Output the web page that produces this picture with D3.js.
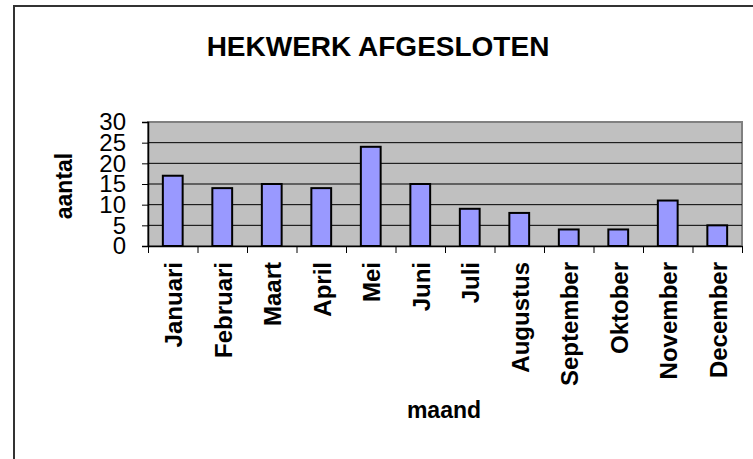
<!DOCTYPE html>
<html>
<head>
<meta charset="utf-8">
<script src="https://cdn.jsdelivr.net/npm/d3@7"></script>
<style>
  body { margin: 0; background: #fff; }
  svg { display: block; font-family: "Liberation Sans", Arial, sans-serif; }
</style>
</head>
<body>
<div id="chart"></div>
<script>
// data
const months = ["Januari", "Februari", "Maart", "April", "Mei", "Juni",
                "Juli", "Augustus", "September", "Oktober", "November", "December"];
const counts = [17, 14, 15, 14, 24, 15, 9, 8, 4, 4, 11, 5];
const yTicks = [0, 5, 10, 15, 20, 25, 30];

const W = 753, H = 459;
const margin = { top: 122, left: 148, right: 11, bottom: 213 };
const width = W - margin.left - margin.right;
const height = H - margin.top - margin.bottom;

const svg = d3.select("#chart").append("svg")
    .attr("width", W)
    .attr("height", H);

// chart frame (runs off the right and bottom of the picture)
svg.append("rect")
    .attr("x", 14).attr("y", 6)
    .attr("width", 800).attr("height", 500)
    .attr("fill", "none")
    .attr("stroke", "#333")
    .attr("stroke-width", 2);

svg.append("text")
    .attr("x", 378)
    .attr("y", 56)
    .attr("text-anchor", "middle")
    .style("font-size", "28px")
    .style("font-weight", "bold")
    .text("HEKWERK AFGESLOTEN");

const g = svg.append("g")
    .attr("transform", "translate(" + margin.left + "," + margin.top + ")");

// scales
const x = d3.scaleBand().domain(months).range([0, width]).padding(0);
const xEdge = d3.scaleLinear().domain([0, months.length]).range([0, width]);
const y = d3.scaleLinear().domain([0, 30]).range([height, 0]);

// plot area
g.append("rect")
    .attr("width", width)
    .attr("height", height)
    .attr("fill", "#c0c0c0")
    .attr("stroke", "#808080")
    .attr("stroke-width", 2);

// gridlines
g.selectAll(".grid")
    .data(yTicks.filter(d => d > 0 && d < 30))
    .enter().append("line")
    .attr("class", "grid")
    .attr("x1", 0).attr("x2", width)
    .attr("y1", d => y(d)).attr("y2", d => y(d))
    .attr("stroke", "#000")
    .attr("stroke-width", 1);

// bars
const barW = x.bandwidth() * 0.4;
g.selectAll(".bar")
    .data(counts)
    .enter().append("rect")
    .attr("class", "bar")
    .attr("x", (d, i) => x(months[i]) + (x.bandwidth() - barW) / 2)
    .attr("y", d => y(d))
    .attr("width", barW)
    .attr("height", d => y(0) - y(d))
    .attr("fill", "#9999ff")
    .attr("stroke", "#000")
    .attr("stroke-width", 2);

// y axis
const yAxis = g.append("g")
    .call(d3.axisLeft(y).tickValues(yTicks).tickSize(6).tickPadding(16));
yAxis.select(".domain").attr("stroke", "#000").attr("stroke-width", 1.5);
yAxis.selectAll("text")
    .style("font-size", "24px")
    .attr("fill", "#000")
    .attr("font-family", null);
yAxis.attr("font-family", null).attr("font-size", null);

// x axis: ticks on category edges
const xAxis = g.append("g")
    .attr("transform", "translate(0," + height + ")")
    .call(d3.axisBottom(xEdge).ticks(months.length).tickSize(7).tickSizeOuter(0).tickFormat(""));
xAxis.select(".domain").attr("stroke", "#000").attr("stroke-width", 1.5);

// month labels
g.selectAll(".month")
    .data(months)
    .enter().append("text")
    .attr("class", "month")
    .attr("transform", d => "translate(" + (x(d) + x.bandwidth() / 2) + "," + (height + 16) + ") rotate(-90)")
    .attr("dy", "0.4em")
    .attr("text-anchor", "end")
    .style("font-size", "24px")
    .style("font-weight", "bold")
    .text(d => d);

// axis titles
svg.append("text")
    .attr("transform", "translate(72,186) rotate(-90)")
    .attr("text-anchor", "middle")
    .style("font-size", "23px")
    .style("font-weight", "bold")
    .text("aantal");

svg.append("text")
    .attr("x", 444)
    .attr("y", 418)
    .attr("text-anchor", "middle")
    .style("font-size", "23px")
    .style("font-weight", "bold")
    .text("maand");
</script>
</body>
</html>
